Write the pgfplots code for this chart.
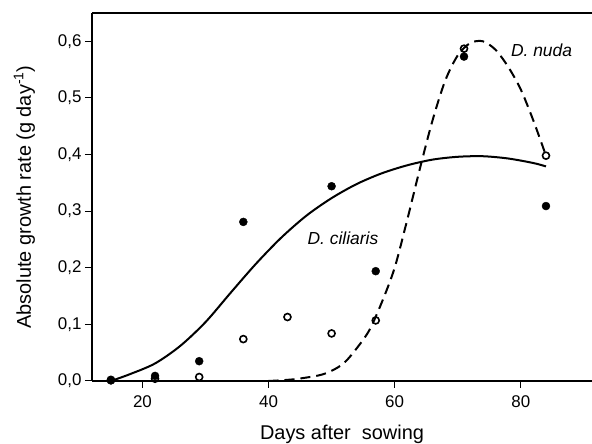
\documentclass[border=0pt]{standalone}
\usepackage{fontspec}
\setmainfont{Liberation Sans}
\usepackage{pgfplots}
\pgfplotsset{compat=1.18}
\usetikzlibrary{calc}

\begin{document}
\begin{tikzpicture}[x=1bp,y=1bp]
\begin{axis}[
  scale only axis,
  width=500bp, height=368bp,
  xmin=12, xmax=91.3,
  ymin=0, ymax=0.65,
  axis x line=box, axis y line=left,
  axis line style={-, line width=1.3bp},
  tick style={line width=1bp, black},
  tick align=outside,
  major tick length=7bp,
  xtick={20,40,60,80}, ytick={0,0.1,...,0.6},
  xtick pos=bottom, ytick pos=left,
  tick label style={font=\fontsize{17}{19}\selectfont},
  xticklabel style={yshift=-4bp},
  label style={font=\fontsize{20}{23}\selectfont},
  /pgf/number format/assume math mode=true,
  yticklabel style={/pgf/number format/.cd, use comma, fixed, precision=1, fixed zerofill},
  xlabel={Days after\ \ sowing},
  ylabel={Absolute growth rate (g day\textsuperscript{-1})},
  xlabel style={yshift=-11bp},
  ylabel style={yshift=16bp},
  clip=false,
]
\coordinate (sw) at (rel axis cs:0,0);
\coordinate (ne) at (rel axis cs:1,1);
% D. ciliaris fitted curve
\addplot[black, line width=2bp, smooth] coordinates {
 (15,0) (18,0.012) (22,0.031) (26,0.062) (30,0.104) (34,0.156) (38,0.207)
 (42,0.253) (46,0.292) (50,0.323) (54,0.348) (58,0.367) (62,0.381)
 (66,0.391) (70,0.396) (74,0.397) (78,0.393) (82,0.385) (84,0.379)};
% D. nuda fitted curve
\addplot[black, line width=2bp, dash pattern=on 10bp off 6bp, smooth] coordinates {
 (40,0) (44,0.003) (48,0.010) (50,0.018) (52,0.032) (54,0.058) (56,0.090)
 (58,0.140) (60,0.200) (62,0.285) (64,0.375) (66,0.460) (68,0.530)
 (70,0.575) (72,0.597) (74,0.600) (76,0.585) (78,0.555) (80,0.515)
 (82,0.460) (84,0.398)};
% D. ciliaris data
\addplot[only marks, mark=*, mark size=4bp, black] coordinates {
 (15,0.001) (22,0.009) (29,0.035) (36,0.281) (50,0.344) (57,0.194) (71,0.573) (84,0.309)};
% D. nuda data
\addplot[only marks, mark=o, mark size=3.5bp, black, line width=1.6bp, mark options={fill=white}] coordinates {
 (15,0.002) (22,0.004) (29,0.007) (36,0.074) (43,0.113) (50,0.084) (57,0.107) (71,0.587) (84,0.398)};
\node[font=\fontsize{17.5}{19}\selectfont\itshape] at (axis cs:51.8,0.252) {D. ciliaris};
\node[font=\fontsize{17.5}{19}\selectfont\itshape] at (axis cs:83.3,0.584) {D. nuda};
\end{axis}
\pgfresetboundingbox
\path (sw) ++(-92bp,-63bp) coordinate (bl);
\path (bl) rectangle ($(ne)+(0,13bp)$);
\end{tikzpicture}
\end{document}
